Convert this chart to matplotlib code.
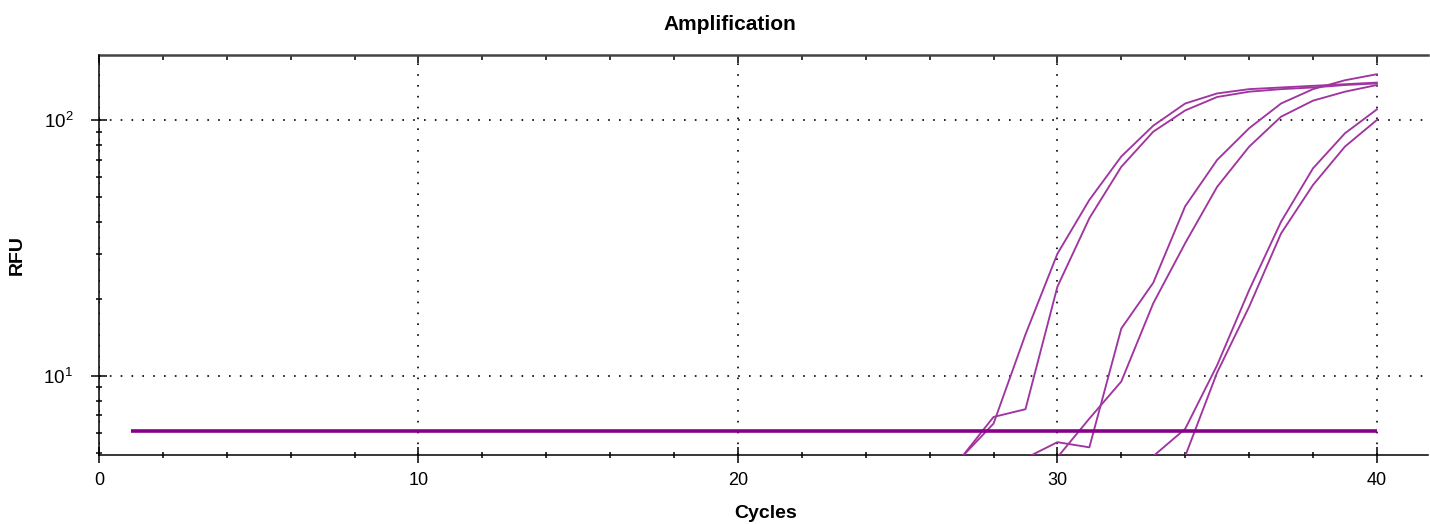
import matplotlib
matplotlib.use("Agg")
import matplotlib.pyplot as plt
from matplotlib.ticker import MultipleLocator, FixedLocator, LogLocator, NullFormatter

plt.rcParams['font.family'] = ['Liberation Sans', 'DejaVu Sans']
plt.rcParams['mathtext.fontset'] = 'custom'
plt.rcParams['mathtext.rm'] = 'Liberation Sans'
plt.rcParams['mathtext.default'] = 'regular'

# --- data ---
cycles_a = list(range(27, 41))
rfu_a1 = [4.8, 6.9, 7.4, 22.3, 41.3, 65.6, 90, 109, 123, 129, 132, 134, 137, 139]
rfu_a2 = [4.8, 6.5, 14.5, 30, 48.7, 72, 95, 116, 127, 132, 134, 136, 138, 140]

cycles_b1 = list(range(29, 41))
rfu_b1 = [4.76, 5.5, 5.25, 15.3, 23.1, 46, 69.8, 92.8, 116, 132, 143, 151]
cycles_b2 = list(range(30, 41))
rfu_b2 = [4.8, 6.8, 9.5, 19.2, 33, 54.8, 78.6, 103, 119, 129, 137]

cycles_c1 = list(range(33, 41))
rfu_c1 = [4.85, 6.2, 11.0, 21.6, 40, 64.7, 88.7, 110]
cycles_c2 = list(range(34, 41))
rfu_c2 = [4.85, 10.3, 18.6, 36, 55.7, 78.7, 100]

baseline_cycles = [1, 40]
baseline_rfu = [6.1, 6.1]

x_ticks = [0, 10, 20, 30, 40]
y_ticks = [10, 100]
y_tick_labels = ['$10^{1}$', '$10^{2}$']

curve_color = '#a035a0'
base_color = '#880088'

fig = plt.figure(figsize=(14.3, 5.24), dpi=100)
ax = fig.add_axes([99 / 1430, 1 - 455 / 524, (1428 - 99) / 1430, 400 / 524])

for cx, cy in [(cycles_a, rfu_a1), (cycles_a, rfu_a2), (cycles_b1, rfu_b1),
               (cycles_b2, rfu_b2), (cycles_c1, rfu_c1), (cycles_c2, rfu_c2)]:
    ax.plot(cx, cy, color=curve_color, lw=1.35, zorder=3)
ax.plot(baseline_cycles, baseline_rfu, color=base_color, lw=2.6, zorder=3,
        solid_capstyle='butt')

ax.set_yscale('log')
ax.set_xlim(0, 41.6)
ax.set_ylim(4.9, 179.5)

# axes / ticks
ax.xaxis.set_major_locator(FixedLocator(x_ticks))
ax.xaxis.set_minor_locator(MultipleLocator(2))
ax.yaxis.set_major_locator(FixedLocator(y_ticks))
ax.set_yticklabels(y_tick_labels)
ax.yaxis.set_minor_locator(LogLocator(base=10, subs=range(2, 10)))
ax.yaxis.set_minor_formatter(NullFormatter())

ax.tick_params(which='major', direction='inout', length=11, width=1.1,
               labelsize=13, pad=3)
ax.tick_params(which='minor', direction='inout', length=5, width=1.1)
ax.tick_params(axis='y', which='major', pad=13, labelsize=13.5)
ax.tick_params(axis='x', which='major', pad=7)

top = ax.secondary_xaxis('top')
top.xaxis.set_major_locator(FixedLocator(x_ticks))
top.xaxis.set_minor_locator(MultipleLocator(2))
top.tick_params(which='major', direction='in', length=6, width=1.1, labeltop=False)
top.tick_params(which='minor', direction='in', length=3.5, width=1.1)
top.spines['top'].set_linewidth(1.8)
top.spines['top'].set_color('#444444')

ax.spines['right'].set_visible(False)
ax.spines['top'].set_visible(False)
ax.spines['left'].set_linewidth(1.1)
ax.spines['bottom'].set_linewidth(1.1)

ax.grid(which='major', color='black', linestyle=(0, (1, 5.5)), lw=1.2)

fig.text(730 / 1430, 1 - 25 / 524, 'Amplification', ha='center', va='center',
         fontsize=15, fontweight='bold')
fig.text(766 / 1430, 1 - 518 / 524, 'Cycles', ha='center', va='baseline',
         fontsize=14, fontweight='bold')
fig.text(17.5 / 1430, 1 - 255 / 524, 'RFU', ha='center', va='center',
         rotation=90, fontsize=14, fontweight='bold')

fig.savefig('out.png', dpi=100)
